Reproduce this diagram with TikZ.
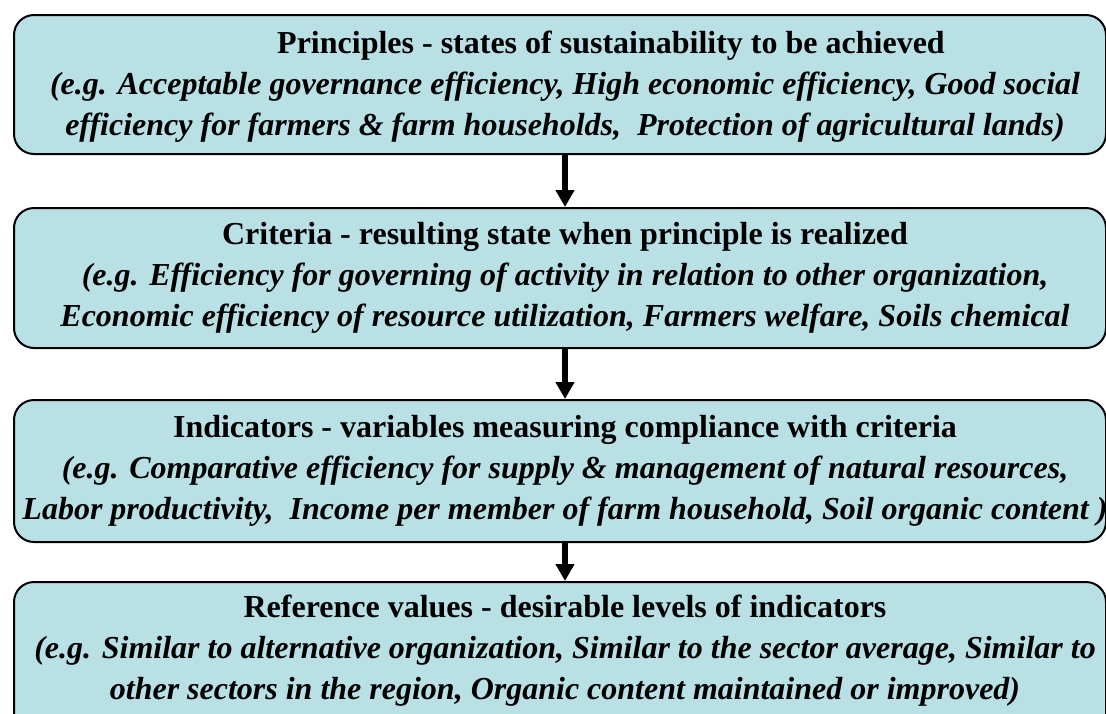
\documentclass[tikz,border=0pt]{standalone}
\usepackage{fontspec}
\setmainfont{Liberation Serif}
\usetikzlibrary{arrows.meta}
\definecolor{boxfill}{RGB}{185,224,228}
\tikzset{
  stagebox/.style={draw=black, line width=2pt, fill=boxfill, rounded corners=20pt,
    minimum width=1092pt, inner sep=0pt, anchor=north west},
  stagetext/.style={align=center, inner sep=0pt, text=black,
    font=\fontsize{32}{41}\selectfont\bfseries\itshape},
  flow/.style={line width=6pt, -{Triangle[width=18pt,length=17pt]}},
}
\newcommand{\ttl}[1]{{\upshape #1}}
\begin{document}
\begin{tikzpicture}[x=1pt,y=-1pt]
\useasboundingbox (0,0) rectangle (1106,713);
\node[stagebox, minimum height=139pt] (b1) at (13,14) {};
\node[stagebox, minimum height=140pt] (b2) at (13,207) {};
\node[stagebox, minimum height=142pt] (b3) at (13,399) {};
\node[stagebox, minimum height=170pt] (b4) at (13,581) {};

\node[stagetext] (t1) at (565,87) {\hspace*{92pt}\ttl{Principles - states of sustainability to be achieved}\\
(e.g. Acceptable governance efficiency, High economic efficiency, Good social\\
efficiency for farmers \& farm households,~ Protection of agricultural lands)};
\node[stagetext] (t2) at (565,278) {\ttl{Criteria - resulting state when principle is realized}\\
(e.g. Efficiency for governing of activity in relation to other organization,\\
Economic efficiency of resource utilization, Farmers welfare, Soils chemical};
\node[stagetext] (t3) at (565,471) {\ttl{Indicators - variables measuring compliance with criteria}\\
(e.g. Comparative efficiency for supply \& management of natural resources,\\
Labor productivity,~ Income per member of farm household, Soil organic content )};
\node[stagetext] (t4) at (565,651) {\ttl{Reference values - desirable levels of indicators}\\
(e.g. Similar to alternative organization, Similar to the sector average, Similar to\\
other sectors in the region, Organic content maintained or improved)};

\draw[flow] (b1.south -| t1.center) -- (b2.north -| t1.center);
\draw[flow] (b2.south -| t2.center) -- (b3.north -| t2.center);
\draw[flow] (b3.south -| t3.center) -- (b4.north -| t3.center);
\end{tikzpicture}
\end{document}
